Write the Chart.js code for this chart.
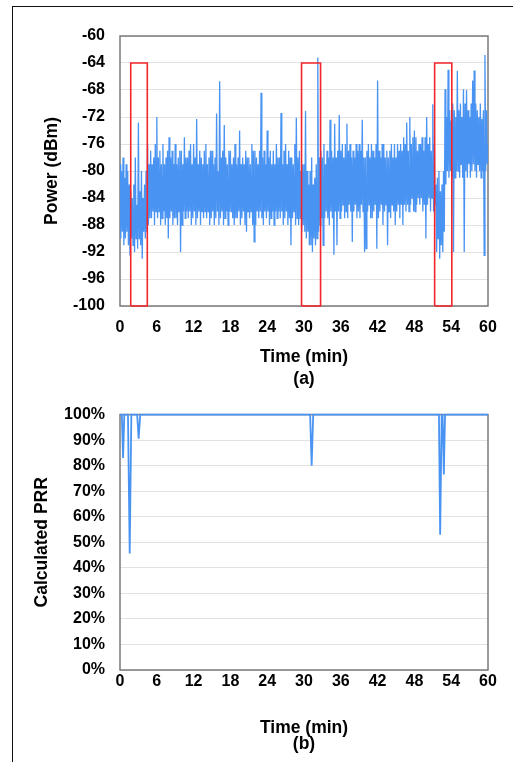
<!DOCTYPE html>
<html>
<head>
<meta charset="utf-8">
<script src="https://cdn.jsdelivr.net/npm/chart.js@4.4.1/dist/chart.umd.min.js"></script>
<style>
  body { margin: 0; background: #fff; width: 513px; height: 762px; overflow: hidden; }
  #frame { position: absolute; left: 12px; top: 6px; width: 501px; height: 756px; border-left: 1px solid #111; border-top: 1px solid #111; }
  #powerChart { position: absolute; left: 0; top: 0; }
  #prrChart { position: absolute; left: 0; top: 390px; }
</style>
</head>
<body>
<div id="frame"></div>
<canvas id="powerChart" width="513" height="390"></canvas>
<canvas id="prrChart" width="513" height="372"></canvas>
<script>
// received power (dBm), one reading every 0.125 min, eight per row = one minute
var sampleStep = 0.125;
var powerValues = [
  -79, -90, -80, -89, -78, -91, -81, -90,
  -79, -89, -80, -91, -82, -92.5, -83, -90,
  -84, -91, -82, -92, -78, -90, -85, -91.5,
  -72.8, -90, -83, -91, -80, -93, -84, -89,
  -82, -90, -80, -89, -76, -88, -79, -87,
  -77, -87, -79, -86, -78, -88, -76, -86,
  -72, -87, -78, -86, -77, -88, -79, -87,
  -76, -86, -79, -88, -78, -87, -77, -90,
  -75, -87, -78, -86, -77, -88, -79, -87,
  -76, -87, -79, -88, -78, -86, -77, -92,
  -77, -88, -79, -86, -75, -87, -78, -86,
  -78, -87, -77, -86, -76, -88, -79, -87,
  -76, -86, -78, -88, -72.3, -87, -79, -86,
  -77, -88, -78, -86, -79, -87, -77, -86,
  -76, -87, -79, -86, -78, -88, -77, -87,
  -77, -86, -79, -88, -78, -87, -71.5, -86,
  -80, -88, -66.7, -87, -78, -86, -77, -88,
  -73.2, -87, -78, -86, -79, -88, -77, -86,
  -77, -86, -79, -87, -78, -88, -76, -87,
  -79, -87, -78, -86, -74, -88, -79, -87,
  -78, -86, -79, -88, -77, -89, -78, -86,
  -78, -87, -79, -86, -76, -88, -77, -90.5,
  -77, -88, -78, -86, -79, -87, -77, -86,
  -68.4, -87, -78, -88, -77, -86, -79, -87,
  -74, -86, -78, -88, -77, -87, -79, -86,
  -77, -88, -79, -86, -76, -87, -78, -86,
  -78, -87, -71.4, -86, -79, -88, -77, -87,
  -76, -86, -79, -88, -77, -87, -78, -91,
  -78, -87, -79, -86, -76, -88, -72.1, -87,
  -78, -88, -77, -87, -80, -89, -79, -88,
  -79, -89, -71.1, -90, -80, -89, -82, -91,
  -80, -91, -78, -92, -82, -90, -81, -91,
  -79, -90, -63.2, -89, -78, -88, -77, -87,
  -78, -91, -76, -87, -79, -86, -77, -87,
  -78, -88, -72.4, -86, -77, -87, -78, -92.4,
  -73, -86, -78, -91, -77, -86, -71.7, -87,
  -77, -86, -76, -85, -78, -87, -76, -86,
  -73, -87, -77, -85, -76, -86, -78, -90.5,
  -77, -86, -78, -85, -76, -87, -77, -86,
  -76, -87, -77, -85, -72.4, -86, -78, -92,
  -78, -91.5, -77, -86, -76, -85, -78, -87,
  -76, -87, -77, -86, -78, -85, -76, -91.5,
  -66.6, -87, -77, -86, -78, -85, -76, -88,
  -76, -86, -78, -85, -77, -91, -78, -86,
  -77, -87, -76, -85, -78, -86, -76, -88,
  -78, -86, -76, -85, -77, -87, -76, -85,
  -77, -88, -75, -85, -76, -86, -72.8, -85,
  -77, -86, -72, -85, -76, -84, -75, -86,
  -74, -86, -75, -85, -77, -84, -76, -85,
  -76, -84, -75, -86, -77, -85, -75, -90,
  -72, -85, -76, -84, -75, -86, -77, -84,
  -70.1, -86, -76, -85, -82, -92, -81, -90,
  -80, -93, -83, -91, -82, -92, -80, -89,
  -67.9, -82, -72, -80, -65, -81, -71, -80,
  -72.5, -81, -70, -92, -71, -81, -72, -80,
  -65.2, -80, -71, -81, -70, -79, -72, -81,
  -67.9, -92, -70, -80, -68, -81, -71, -79,
  -72, -81, -70, -80, -66.6, -79, -65.1, -80,
  -70, -81, -71, -79, -72, -80, -70, -81,
  -72.3, -80, -71, -92.5, -62.8, -80, -71, -79,
  -76
];

// highlighted windows (min) and their dBm span
var boxStart = [1.75, 29.6, 51.3];
var boxEnd = [4.45, 32.7, 54.1];
var boxTop = -64;
var boxBottom = -100;

// packet reception ratio
var prrTimes  = [0, 0.3, 0.5, 0.7, 1.3, 1.58, 1.85, 2.8, 3.04, 3.3, 31.0, 31.25, 31.5, 52.0, 52.2, 52.45, 52.6, 52.8, 53.0, 60];
var prrValues = [100, 100, 83, 100, 100, 45.6, 100, 100, 90.6, 100, 100, 80, 100, 100, 53, 100, 100, 76.6, 100, 100];

var BLUE = '#4993f2';
Chart.defaults.font.family = '"Liberation Sans", Arial, Helvetica, sans-serif';
Chart.defaults.font.weight = 'bold';
Chart.defaults.color = '#000';

var powerPoints = powerValues.map(function (v, i) { return { x: i * sampleStep, y: v }; });
var prrPoints = prrTimes.map(function (t, i) { return { x: t, y: prrValues[i] }; });

var boxSets = boxStart.map(function (s, i) {
  return {
    data: [
      { x: s, y: boxBottom }, { x: s, y: boxTop },
      { x: boxEnd[i], y: boxTop }, { x: boxEnd[i], y: boxBottom }, { x: s, y: boxBottom }
    ],
    borderColor: '#f2262a', borderWidth: 1.6, pointRadius: 0, tension: 0, clip: false
  };
});

var plotBorder = {
  id: 'plotBorder',
  beforeDatasetsDraw: function (chart) {
    var a = chart.chartArea, c = chart.ctx;
    c.save();
    c.strokeStyle = '#7a7a7a';
    c.lineWidth = 1.5;
    c.strokeRect(a.left, a.top, a.right - a.left, a.bottom - a.top);
    c.restore();
  }
};

function xAxis(lines, lh, padBottom, tickPad, h) {
  return {
    type: 'linear', min: 0, max: 60,
    ticks: { stepSize: 6, padding: tickPad, font: { size: 16, weight: 'bold' } },
    grid: { display: false, drawTicks: false },
    border: { display: false },
    title: { display: true, text: lines, font: { size: 17.5, weight: 'bold', lineHeight: lh / 17.5 }, padding: { top: 0, bottom: padBottom } },
    afterFit: function (s) { s.height = h; }
  };
}

function yAxis(label, padTop, min, max, step, fmt) {
  return {
    min: min, max: max,
    ticks: { stepSize: step, padding: 15, font: { size: 16, weight: 'bold' }, callback: fmt },
    grid: { color: '#e2e2e2', drawTicks: false },
    border: { display: false },
    title: { display: true, text: label, font: { size: 17.5, weight: 'bold' }, padding: { top: padTop, bottom: 0 } },
    afterFit: function (s) { s.width = 120; }
  };
}

new Chart(document.getElementById('powerChart'), {
  type: 'line',
  data: {
    datasets: boxSets.concat([
      { data: powerPoints, borderColor: BLUE, borderWidth: 1.3, pointRadius: 0, tension: 0 }
    ])
  },
  options: {
    animation: false, responsive: false, devicePixelRatio: 1,
    layout: { padding: { top: 36, right: 25, left: 0, bottom: 0 } },
    plugins: { legend: { display: false }, tooltip: { enabled: false } },
    scales: {
      x: xAxis(['Time (min)', '(a)'], 22, 0, 12, 84),
      y: yAxis('Power (dBm)', 41.5, -100, -60, 4, function (v) { return v; })
    }
  },
  plugins: [plotBorder]
});

new Chart(document.getElementById('prrChart'), {
  type: 'line',
  data: {
    datasets: [{
      data: prrPoints, borderColor: BLUE, borderWidth: 1.8, pointRadius: 0, tension: 0, clip: false
    }]
  },
  options: {
    animation: false, responsive: false, devicePixelRatio: 1,
    layout: { padding: { top: 8, right: 25, left: 0, bottom: 0 } },
    plugins: { legend: { display: false }, tooltip: { enabled: false } },
    scales: {
      x: xAxis(['Time (min)', '(b)'], 15.5, 10.5, 2, 92),
      y: yAxis('Calculated PRR', 31.5, 0, 100, 10, function (v) { return v + '%'; })
    }
  },
  plugins: [plotBorder]
});
</script>
</body>
</html>
